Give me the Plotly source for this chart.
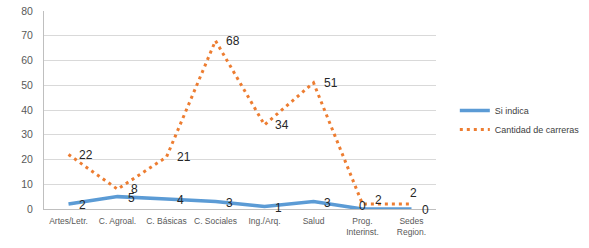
import plotly.graph_objects as go

categories = ["Artes/Letr.", "C. Agroal.", "C. Básicas", "C. Sociales", "Ing./Arq.", "Salud", "Prog.<br>Interinst.", "Sedes<br>Region."]
si_indica = [2, 5, 4, 3, 1, 3, 0, 0]
cantidad = [22, 8, 21, 68, 34, 51, 2, 2]
y_ticks = [0, 10, 20, 30, 40, 50, 60, 70, 80]

BLUE = "#5B9BD5"
ORANGE = "#ED7D31"

fig = go.Figure()
fig.add_trace(go.Scatter(x=categories, y=si_indica, mode="lines", name="Si indica",
                         line=dict(color=BLUE, width=3.5)))
fig.add_trace(go.Scatter(x=categories, y=cantidad, mode="lines", name="Cantidad de carreras",
                         line=dict(color=ORANGE, width=3, dash="3px,4px")))

lab_font = dict(family="Liberation Sans, Arial", size=12, color="#262626")
for i, (c, v) in enumerate(zip(categories, cantidad)):
    if i == len(categories) - 1:
        fig.add_annotation(x=c, y=v, text=str(v), showarrow=False, xshift=2, yshift=11, font=lab_font)
    elif i == 6:
        fig.add_annotation(x=c, y=v, text=str(v), showarrow=False, xshift=16, yshift=4, font=lab_font)
    else:
        fig.add_annotation(x=c, y=v, text=str(v), showarrow=False, xshift=17, yshift=0, font=lab_font)
for i, (c, v) in enumerate(zip(categories, si_indica)):
    if i == 6:
        fig.add_annotation(x=c, y=v, text=str(v), showarrow=False, xshift=0, yshift=3, font=lab_font)
    else:
        fig.add_annotation(x=c, y=v, text=str(v), showarrow=False, xshift=14, yshift=-1, font=lab_font)

fig.update_layout(
    width=589, height=248,
    margin=dict(l=44, r=153, t=11, b=39, autoexpand=False),
    paper_bgcolor="white", plot_bgcolor="white",
    showlegend=True,
    legend=dict(x=1.048, xanchor="left", y=0.45, yanchor="middle",
                font=dict(family="Liberation Sans, Arial", size=9, color="#404040"),
                tracegroupgap=0, itemwidth=30, bgcolor="rgba(0,0,0,0)"),
    font=dict(family="Liberation Sans, Arial", size=9, color="#595959"),
)
fig.update_xaxes(range=[-0.5, len(categories) - 0.5], showgrid=False, showline=True,
                 linecolor="#BFBFBF", linewidth=1, ticklabelstandoff=4,
                 ticks="", tickfont=dict(size=8.5, color="#595959"))
fig.update_yaxes(range=[0, 80], tickvals=y_ticks, showgrid=True, gridcolor="#D9D9D9", gridwidth=1,
                 showline=True, linecolor="#BFBFBF", linewidth=1, zeroline=False,
                 ticks="", ticklabelstandoff=8, ticklabeloverflow="allow",
                 tickfont=dict(size=10.5, color="#595959"))

# remove the default 8px page margin so the 589x248 figure fills the window exactly
fig.write_html("out.html", config={"displayModeBar": False},
               post_script="document.body.style.margin='0px';")
